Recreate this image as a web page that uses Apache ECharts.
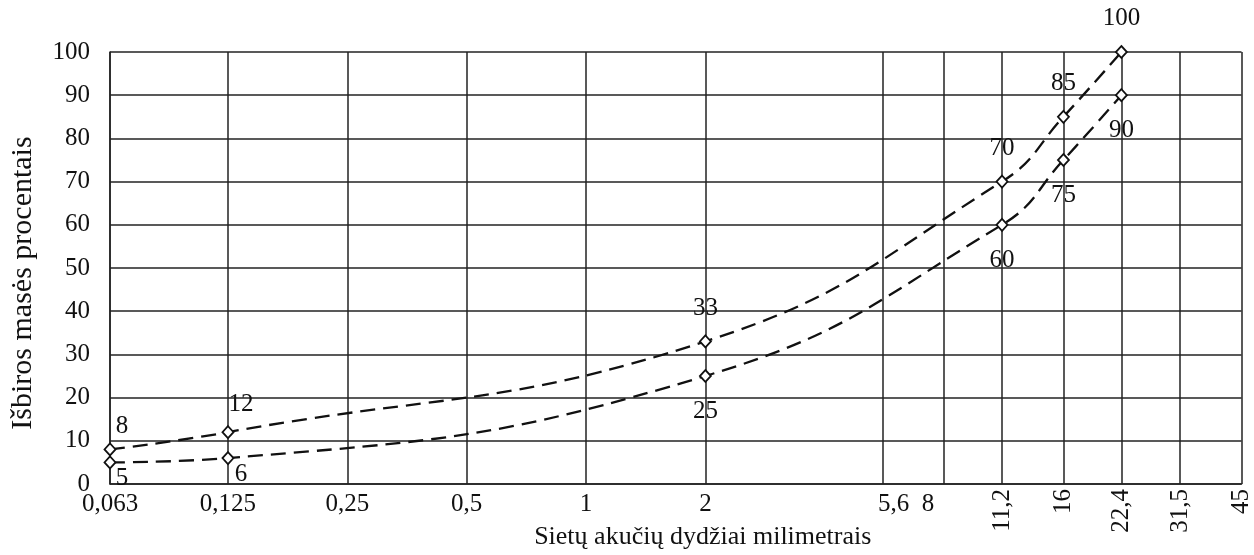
<!DOCTYPE html>
<html>
<head>
<meta charset="utf-8">
<script src="https://cdn.jsdelivr.net/npm/echarts@6/dist/echarts.min.js"></script>
<style>
  html, body { margin: 0; padding: 0; background: #ffffff; }
  #chart { width: 1254px; height: 555px; }
</style>
</head>
<body>
<div id="chart"></div>
<script>
// Sieve openings (mm) where the two grading limits are given
const sieveSizes = [0.063, 0.125, 2, 11.2, 16, 22.4];
// Upper and lower limits of passing mass, %
const upperPassing = [8, 12, 33, 70, 85, 100];
const lowerPassing = [5, 6, 25, 60, 75, 90];

// Sieve series shown on the x axis
const sieveTicks = [0.063, 0.125, 0.25, 0.5, 1, 2, 5.6, 8, 11.2, 16, 22.4, 31.5, 45];
const flatTickLabels = [0.063, 0.125, 0.25, 0.5, 1, 2, 5.6, 8];
const uprightTickLabels = [11.2, 16, 22.4, 31.5, 45];
const percentTicks = [0, 10, 20, 30, 40, 50, 60, 70, 80, 90, 100];

const xName = 'Sietų akučių dydžiai milimetrais';
const yName = 'Išbiros masės procentais';

const FONT = '"Liberation Serif", "Times New Roman", serif';
const INK = '#111111';

// Lithuanian decimal comma; snap to the nearest listed sieve size
function sieveText(v) {
  let best = sieveTicks[0];
  for (const t of sieveTicks) {
    if (Math.abs(Math.log(t / v)) < Math.abs(Math.log(best / v))) best = t;
  }
  return String(best).replace('.', ',');
}

const chart = echarts.init(document.getElementById('chart'), null, { renderer: 'canvas' });

const xMin = sieveTicks[0];
const xMax = sieveTicks[sieveTicks.length - 1];

// label nudges for the points crowded at the left edge
const upperLabelShift = { 0: [12, 10], 1: [13, 6] };
const lowerLabelShift = { 0: [12, -19], 1: [13, -19] };

function seriesData(values, shifts) {
  return sieveSizes.map((s, i) => {
    const item = { value: [s, values[i]] };
    if (shifts[i]) item.label = { offset: shifts[i] };
    return item;
  });
}

const lineBase = {
  type: 'line',
  xAxisIndex: 0,
  smooth: 0.45,
  symbol: 'diamond',
  symbolSize: [11, 12],
  showAllSymbol: true,
  lineStyle: { color: INK, width: 2.3, type: [15, 8] },
  itemStyle: { color: '#ffffff', borderColor: INK, borderWidth: 1.8 },
  emphasis: { disabled: true },
  z: 5
};

const option = {
  animation: false,
  backgroundColor: '#ffffff',
  grid: { left: 110, right: 8, top: 52, bottom: 70, containLabel: false },
  xAxis: [
    {
      type: 'log',
      logBase: 2,
      min: xMin,
      max: xMax,
      name: xName,
      nameLocation: 'middle',
      nameGap: 40,
      nameTextStyle: { fontFamily: FONT, fontSize: 26, color: INK, padding: [0, 0, 0, 54] },
      axisLine: { show: true, onZero: false, lineStyle: { color: '#222', width: 1.5 } },
      axisTick: { show: false, customValues: sieveTicks },
      splitLine: { show: true, lineStyle: { color: '#222', width: 1.5 } },
      axisLabel: {
        customValues: flatTickLabels,
        fontFamily: FONT,
        fontSize: 25,
        color: INK,
        margin: 8,
        formatter: (v) => {
          const t = sieveText(v);
          if (t === '5,6') return '{r|' + t + '}';
          if (t === '8') return '{l|' + t + '}';
          return t;
        },
        rich: {
          r: { fontFamily: FONT, fontSize: 25, color: INK, padding: [0, 0, 0, 22] },
          l: { fontFamily: FONT, fontSize: 25, color: INK, padding: [0, 32, 0, 0] }
        }
      }
    },
    {
      type: 'log',
      logBase: 2,
      min: xMin,
      max: xMax,
      position: 'bottom',
      axisLine: { show: false },
      axisTick: { show: false, customValues: uprightTickLabels },
      splitLine: { show: false },
      axisLabel: {
        customValues: uprightTickLabels,
        rotate: 90,
        fontFamily: FONT,
        fontSize: 25,
        color: INK,
        margin: 5,
        formatter: (v) => sieveText(v)
      }
    }
  ],
  yAxis: {
    type: 'value',
    min: percentTicks[0],
    max: percentTicks[percentTicks.length - 1],
    interval: 10,
    name: yName,
    nameLocation: 'middle',
    nameGap: 72,
    nameTextStyle: { fontFamily: FONT, fontSize: 30, color: INK, padding: [0, 30, 0, 0] },
    axisLine: { show: true, lineStyle: { color: '#222', width: 1.5 } },
    axisTick: { show: false },
    splitLine: { show: true, lineStyle: { color: '#222', width: 1.5 } },
    axisLabel: { fontFamily: FONT, fontSize: 25, color: INK, margin: 20 }
  },
  series: [
    Object.assign({}, lineBase, {
      name: 'upper',
      data: seriesData(upperPassing, upperLabelShift),
      label: {
        show: true, position: 'top', distance: 14,
        fontFamily: FONT, fontSize: 25, color: INK,
        formatter: (p) => String(p.value[1])
      }
    }),
    Object.assign({}, lineBase, {
      name: 'lower',
      data: seriesData(lowerPassing, lowerLabelShift),
      label: {
        show: true, position: 'bottom', distance: 16,
        fontFamily: FONT, fontSize: 25, color: INK,
        formatter: (p) => String(p.value[1])
      }
    })
  ]
};

chart.setOption(option);
</script>
</body>
</html>
